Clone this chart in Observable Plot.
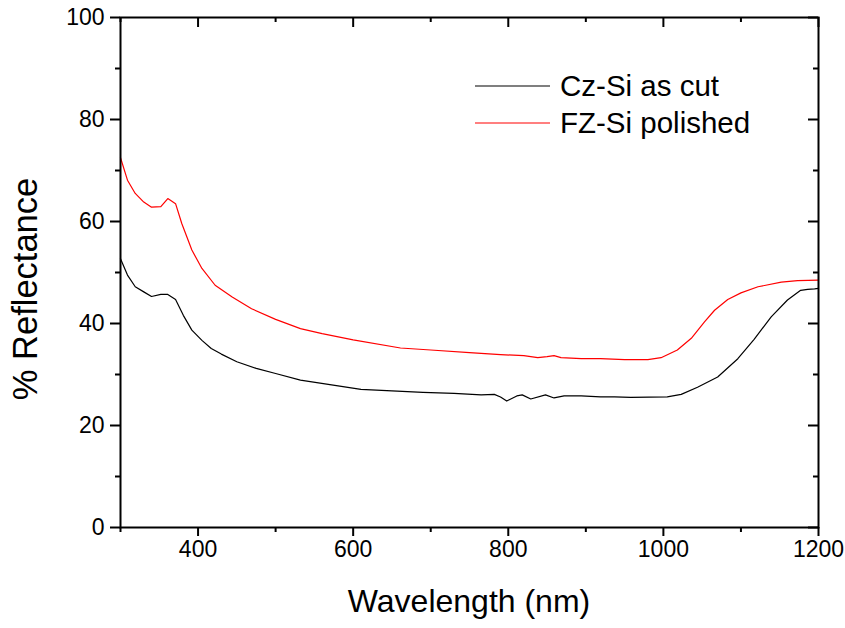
<!DOCTYPE html>
<html>
<head>
<meta charset="utf-8">
<script src="https://cdn.jsdelivr.net/npm/d3@7"></script>
<script src="https://cdn.jsdelivr.net/npm/@observablehq/plot@0.6"></script>
<style>
  html, body { margin: 0; padding: 0; background: #fff; }
  #chart svg { display: block; }
</style>
</head>
<body>
<div id="chart"></div>
<script>
// Cz-Si as cut (black)
const czWavelength = [300, 309, 319, 330, 340, 352, 361, 371, 381, 392, 405, 417, 430, 450, 475, 500, 532, 570, 610, 650, 690, 730, 765, 782, 790, 798, 811, 818, 829, 848, 859, 872, 894, 919, 937, 958, 1005, 1023, 1044, 1070, 1096, 1117, 1139, 1160, 1177, 1186, 1195, 1200];
const czReflectance = [52.7, 49.5, 47.2, 46.2, 45.3, 45.7, 45.7, 44.7, 41.6, 38.7, 36.7, 35.1, 34.0, 32.5, 31.2, 30.2, 28.9, 28.0, 27.1, 26.8, 26.5, 26.3, 26.0, 26.1, 25.6, 24.8, 25.8, 26.0, 25.2, 26.0, 25.4, 25.8, 25.8, 25.6, 25.6, 25.5, 25.6, 26.1, 27.5, 29.5, 33.1, 36.9, 41.3, 44.6, 46.5, 46.7, 46.8, 46.9];

// FZ-Si polished (red)
const fzWavelength = [300, 309, 319, 330, 340, 352, 361, 371, 379, 392, 405, 422, 444, 469, 500, 532, 560, 600, 661, 700, 750, 790, 820, 838, 850, 859, 868, 894, 919, 950, 980, 997, 1018, 1036, 1053, 1066, 1083, 1100, 1122, 1152, 1173, 1200];
const fzReflectance = [72.5, 68.1, 65.5, 63.8, 62.8, 62.9, 64.5, 63.5, 59.6, 54.4, 50.8, 47.5, 45.2, 42.9, 40.8, 39.0, 38.0, 36.8, 35.2, 34.8, 34.3, 33.9, 33.7, 33.3, 33.5, 33.7, 33.3, 33.1, 33.1, 32.9, 32.9, 33.3, 34.8, 37.1, 40.3, 42.6, 44.7, 46.0, 47.2, 48.1, 48.4, 48.5];

const seriesNames = ["Cz-Si as cut", "FZ-Si polished"];
const seriesColors = ["black", "red"];

const xMajorTicks = [400, 600, 800, 1000, 1200];
const xMinorTicks = [300, 500, 700, 900, 1100];
const yMajorTicks = [0, 20, 40, 60, 80, 100];
const yMinorTicks = [10, 30, 50, 70, 90];

const xLabel = "Wavelength (nm)";
const yLabel = "% Reflectance";

const cz = czWavelength.map((w, i) => ({wl: w, r: czReflectance[i]}));
const fz = fzWavelength.map((w, i) => ({wl: w, r: fzReflectance[i]}));

const W = 845, H = 628;
const mL = 120, mR = 27, mT = 17, mB = 101;
const innerW = W - mL - mR, innerH = H - mT - mB;
const font = "'Liberation Sans', Arial, Helvetica, sans-serif";
const fmt = d => String(d);

const chart = Plot.plot({
  width: W,
  height: H,
  marginLeft: mL,
  marginRight: mR,
  marginTop: mT,
  marginBottom: mB,
  style: {fontFamily: font, fontSize: "23px", color: "black", background: "white"},
  x: {domain: [300, 1200]},
  y: {domain: [0, 100]},
  marks: [
    Plot.line(cz, {x: "wl", y: "r", stroke: seriesColors[0], strokeWidth: 1.2}),
    Plot.line(fz, {x: "wl", y: "r", stroke: seriesColors[1], strokeWidth: 1.2}),
    // outward bottom / left ticks
    Plot.axisX(xMajorTicks, {anchor: "bottom", tickSize: 9, tickPadding: 4, strokeWidth: 2, label: null, fill: "black", fontSize: 23, tickFormat: fmt}),
    Plot.axisX(xMinorTicks, {anchor: "bottom", tickSize: 5, strokeWidth: 2, tickFormat: () => "", label: null}),
    Plot.axisY(yMajorTicks, {anchor: "left", tickSize: 10, tickPadding: 6, strokeWidth: 2, label: null, fill: "black", fontSize: 23, tickFormat: fmt}),
    Plot.axisY(yMinorTicks, {anchor: "left", tickSize: 5, strokeWidth: 2, tickFormat: () => "", label: null}),
    // inward top / right ticks
    Plot.tickX(xMajorTicks, {x: d => d, insetBottom: innerH - 10, stroke: "black", strokeWidth: 2}),
    Plot.tickX(xMinorTicks, {x: d => d, insetBottom: innerH - 5, stroke: "black", strokeWidth: 2}),
    Plot.tickY(yMajorTicks, {y: d => d, insetLeft: innerW - 10, stroke: "black", strokeWidth: 2}),
    Plot.tickY(yMinorTicks, {y: d => d, insetLeft: innerW - 5, stroke: "black", strokeWidth: 2}),
    Plot.frame({stroke: "black", strokeWidth: 2})
  ]
});

const svg = d3.select(chart);

// axis titles
svg.append("text")
  .attr("x", 469).attr("y", 612)
  .attr("text-anchor", "middle")
  .attr("font-family", font).attr("font-size", 32)
  .attr("fill", "black")
  .text(xLabel);

svg.append("text")
  .attr("transform", "translate(37,289) rotate(-90)")
  .attr("text-anchor", "middle")
  .attr("font-family", font).attr("font-size", 34.5)
  .attr("fill", "black")
  .text(yLabel);

// legend
const legendY = [86, 123];
seriesNames.forEach((name, i) => {
  svg.append("line")
    .attr("x1", 475).attr("x2", 550)
    .attr("y1", legendY[i]).attr("y2", legendY[i])
    .attr("stroke", seriesColors[i]).attr("stroke-width", 1.2);
  svg.append("text")
    .attr("x", 560).attr("y", legendY[i] + 10)
    .attr("text-anchor", "start")
    .attr("font-family", font).attr("font-size", 29.5)
    .attr("fill", "black")
    .text(name);
});

document.getElementById("chart").appendChild(chart);
</script>
</body>
</html>
